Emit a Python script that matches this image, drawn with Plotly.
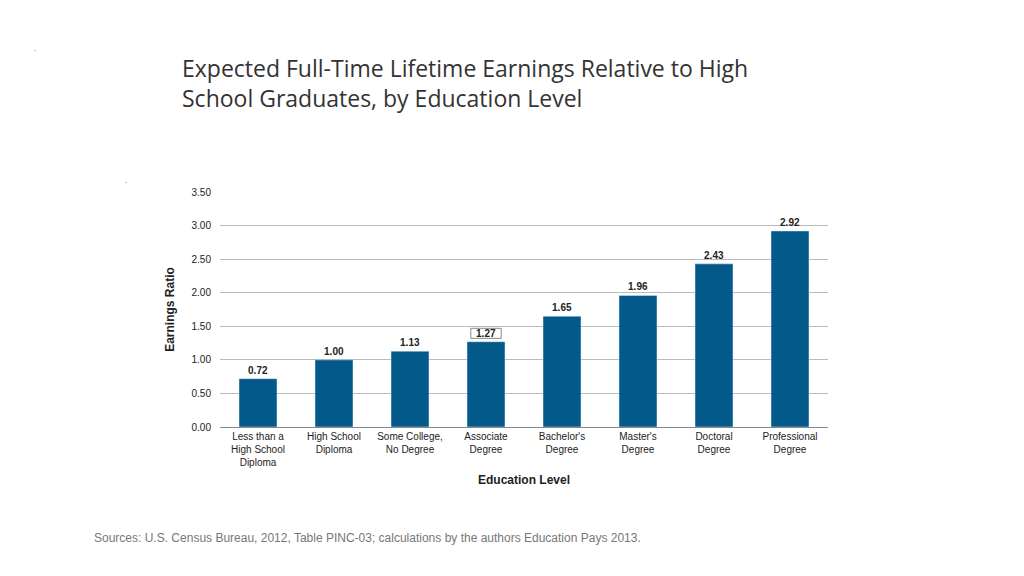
import plotly.graph_objects as go

categories = ["Less than a<br>High School<br>Diploma", "High School<br>Diploma", "Some College,<br>No Degree",
              "Associate<br>Degree", "Bachelor's<br>Degree", "Master's<br>Degree", "Doctoral<br>Degree",
              "Professional<br>Degree"]
ratios = [0.72, 1.00, 1.13, 1.27, 1.65, 1.96, 2.43, 2.92]
tick_vals = [0, 0.5, 1.0, 1.5, 2.0, 2.5, 3.0, 3.5]

fig = go.Figure(go.Bar(
    x=categories, y=ratios, marker_color="#035A8A", width=0.5,
    text=[f"<b>{v:.2f}</b>" for v in ratios], textposition="outside",
    textfont=dict(size=10, color="#222", family="Liberation Sans Narrow, Arial Narrow, Liberation Sans"),
    cliponaxis=False,
))

# boxed label on Associate Degree
fig.add_shape(type="rect", xref="x", yref="y", x0=2.8, x1=3.2, y0=1.32, y1=1.47,
              line=dict(color="#888", width=1), fillcolor="rgba(0,0,0,0)")

fig.update_layout(
    width=1024, height=576, paper_bgcolor="white", plot_bgcolor="white",
    margin=dict(l=212, r=204, t=184, b=157), showlegend=False,
    font=dict(family="Liberation Sans Narrow, Arial Narrow, Liberation Sans", size=10, color="#222"),
    xaxis=dict(showline=True, linecolor="#888", tickfont=dict(size=10), ticks="",
               title=dict(text="<b>Education Level</b>", font=dict(size=12), standoff=8)),
    yaxis=dict(range=[0, 3.5], tickvals=tick_vals, tickformat=".2f", gridcolor="#bbb",
               zeroline=False, tickfont=dict(size=10), ticklabelstandoff=8,
               title=dict(text="<b>Earnings Ratio</b>", font=dict(size=12), standoff=14)),
    annotations=[
        dict(text="Expected Full-Time Lifetime Earnings Relative to High<br>School Graduates, by Education Level",
             x=173, y=56, xref="paper", yref="paper", showarrow=False, visible=False),
        dict(text="Expected Full-Time Lifetime Earnings Relative to High<br>School Graduates, by Education Level",
             xref="paper", yref="paper", x=-0.065, y=1.0, xanchor="left", yanchor="bottom",
             yshift=76, showarrow=False, align="left",
             font=dict(family="Open Sans", size=23, color="#333")),
        dict(text="Sources: U.S. Census Bureau, 2012, Table PINC-03; calculations by the authors Education Pays 2013.",
             xref="paper", yref="paper", x=-0.21, y=0, yshift=-102, xanchor="left", yanchor="top",
             showarrow=False, font=dict(family="Liberation Sans", size=12, color="#777")),
        dict(text=".", xref="paper", yref="paper", x=-0.31, y=1.0, yshift=150, showarrow=False,
             font=dict(size=8, color="#555")),
        dict(text=".", xref="paper", yref="paper", x=-0.16, y=1.0, yshift=18, showarrow=False,
             font=dict(size=8, color="#555")),
    ],
)
fig.write_html("out.html")
